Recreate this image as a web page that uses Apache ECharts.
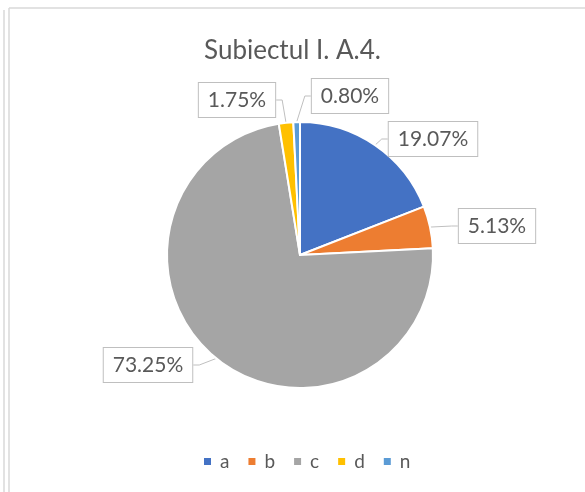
<!DOCTYPE html>
<html>
<head>
<meta charset="utf-8">
<script src="https://cdn.jsdelivr.net/npm/echarts@6/dist/echarts.min.js"></script>
<style>
  html, body { margin: 0; padding: 0; background: #fff; }
  #chart { width: 585px; height: 492px; }
</style>
</head>
<body>
<div id="chart"></div>
<script>
const categories = ['a', 'b', 'c', 'd', 'n'];
const values = [19.07, 5.13, 73.25, 1.75, 0.80];
const colors = ['#4472C4', '#ED7D31', '#A5A5A5', '#FFC000', '#5B9BD5'];
// where each data label box sits (centre, px)
const labelPos = [[433, 139], [497, 226], [148, 365], [237, 100], [350, 96]];

const chart = echarts.init(document.getElementById('chart'));

const option = {
  animation: false,
  title: {
    text: 'Subiectul I. A.4.',
    left: 'center',
    top: 33,
    textStyle: { fontFamily: 'Lato', fontSize: 26, fontWeight: 'normal', color: '#595959' }
  },
  legend: {
    top: 452,
    left: 202,
    icon: 'rect',
    itemWidth: 9,
    itemHeight: 9,
    itemGap: 17,
    padding: 0,
    textStyle: { fontFamily: 'Lato', fontSize: 19, color: '#595959', padding: [0, 0, 0, 3] },
    data: categories
  },
  graphic: [
    { type: 'line', shape: { x1: 4, y1: 10, x2: 4, y2: 492 }, style: { stroke: '#d9d9d9', lineWidth: 1.5 } },
    { type: 'line', shape: { x1: 9, y1: 8, x2: 9, y2: 492 }, style: { stroke: '#d9d9d9', lineWidth: 1.5 } },
    { type: 'line', shape: { x1: 9, y1: 8, x2: 585, y2: 8 }, style: { stroke: '#d9d9d9', lineWidth: 1.5 } }
  ],
  series: [{
    type: 'pie',
    center: [300, 255],
    radius: 133,
    startAngle: 90,
    clockwise: true,
    data: categories.map((c, i) => ({ name: c, value: values[i], itemStyle: { color: colors[i] } })),
    itemStyle: { borderColor: '#fff', borderWidth: 2 },
    label: {
      show: true,
      position: 'outside',
      formatter: p => p.value.toFixed(2) + '%',
      fontFamily: 'Lato',
      fontSize: 21,
      color: '#595959',
      backgroundColor: '#fff',
      borderColor: '#bfbfbf',
      borderWidth: 1,
      padding: [7, 9, 6, 9]
    },
    labelLine: { show: true, length: 12, length2: 6, lineStyle: { color: '#bfbfbf', width: 1 } },
    labelLayout: p => ({
      x: labelPos[p.dataIndex][0],
      y: labelPos[p.dataIndex][1],
      align: 'center',
      verticalAlign: 'middle'
    })
  }]
};

chart.setOption(option);
</script>
</body>
</html>
